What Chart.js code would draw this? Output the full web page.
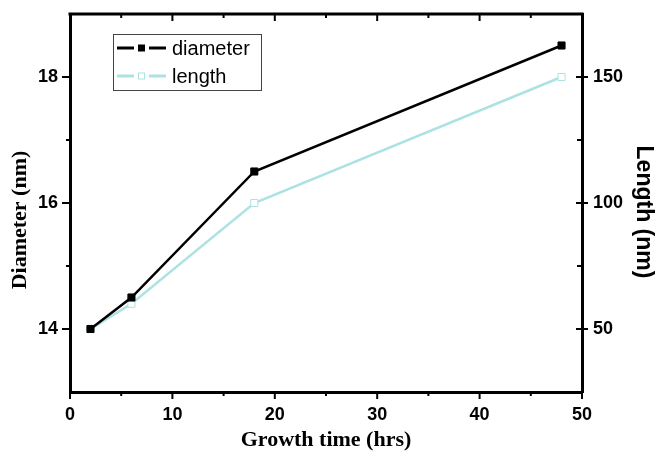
<!DOCTYPE html>
<html>
<head>
<meta charset="utf-8">
<script src="https://cdn.jsdelivr.net/npm/chart.js@4/dist/chart.umd.min.js"></script>
<style>
  body { margin: 0; background: #fff; }
</style>
</head>
<body>
<canvas id="myChart" width="658" height="458"></canvas>
<script>
//Data
const growthTime = [2, 6, 18, 48];
const diameter = [14, 14.5, 16.5, 18.5];
const lengthNm = [50, 60, 100, 150];

//Tick labels (major) and minor tick positions
const xTicks = [0, 10, 20, 30, 40, 50];
const xMinor = [5, 15, 25, 35, 45];
const diamTicks = [14, 16, 18];
const diamMinor = [15, 17];
const lengthTicks = [50, 100, 150];
const lengthMinor = [75, 125];

const cyan = '#ade2e2';

//Draws the frame ticks, the legend and the axis titles on top of the chart
const extras = {
    id: 'extras',
    afterDraw(chart) {
        const ctx = chart.ctx;
        const area = chart.chartArea;
        const x = chart.scales.x;
        const y = chart.scales.y;
        const y2 = chart.scales.y2;

        ctx.save();
        ctx.strokeStyle = '#000';

        //top frame line
        ctx.lineWidth = 3;
        ctx.beginPath();
        ctx.moveTo(area.left - 1.5, area.top);
        ctx.lineTo(area.right + 1.5, area.top);
        ctx.stroke();

        ctx.lineWidth = 2;
        ctx.beginPath();
        //bottom and top ticks
        xTicks.concat(xMinor).forEach(function(v) {
            const px = x.getPixelForValue(v);
            const len = xTicks.includes(v) ? 7 : 4;
            ctx.moveTo(px, area.bottom);
            ctx.lineTo(px, area.bottom + len);
            ctx.moveTo(px, area.top);
            ctx.lineTo(px, area.top + len);
        });
        //left ticks
        diamTicks.concat(diamMinor).forEach(function(v) {
            const py = y.getPixelForValue(v);
            const len = diamTicks.includes(v) ? 8 : 4;
            ctx.moveTo(area.left, py);
            ctx.lineTo(area.left - len, py);
        });
        //right ticks
        lengthTicks.forEach(function(v) {
            const py = y2.getPixelForValue(v);
            ctx.moveTo(area.right - 6, py);
            ctx.lineTo(area.right + 6, py);
        });
        lengthMinor.forEach(function(v) {
            const py = y2.getPixelForValue(v);
            ctx.moveTo(area.right - 5, py);
            ctx.lineTo(area.right, py);
        });
        ctx.stroke();

        //legend
        const lx = area.left + 43;
        const ly = area.top + 20;
        ctx.lineWidth = 1;
        ctx.strokeStyle = '#444';
        ctx.strokeRect(lx + 0.5, ly + 0.5, 148, 56);

        const rows = [
            { label: 'diameter', color: '#000', filled: true, yy: ly + 14 },
            { label: 'length', color: cyan, filled: false, yy: ly + 42 }
        ];
        rows.forEach(function(r) {
            ctx.lineWidth = 3;
            ctx.strokeStyle = r.color;
            ctx.beginPath();
            ctx.moveTo(lx + 4, r.yy);
            ctx.lineTo(lx + 21, r.yy);
            ctx.moveTo(lx + 36, r.yy);
            ctx.lineTo(lx + 53, r.yy);
            ctx.stroke();
            if (r.filled) {
                ctx.fillStyle = r.color;
                ctx.fillRect(lx + 25, r.yy - 3.5, 7, 7);
            } else {
                ctx.lineWidth = 1;
                ctx.fillStyle = '#fff';
                ctx.fillRect(lx + 25, r.yy - 3.5, 7, 7);
                ctx.strokeRect(lx + 25.5, r.yy - 3, 6, 6);
            }
            ctx.fillStyle = '#000';
            ctx.font = '20px "Liberation Sans"';
            ctx.textAlign = 'left';
            ctx.textBaseline = 'middle';
            ctx.fillText(r.label, lx + 59, r.yy + 1);
        });

        //axis titles
        ctx.fillStyle = '#000';
        ctx.textAlign = 'center';
        ctx.textBaseline = 'middle';
        ctx.font = 'bold 22px "Liberation Serif"';
        ctx.fillText('Growth time (hrs)', (area.left + area.right) / 2, 440);

        ctx.save();
        ctx.translate(20, 220);
        ctx.rotate(-Math.PI / 2);
        ctx.fillText('Diameter (nm)', 0, 0);
        ctx.restore();

        ctx.save();
        ctx.translate(643, 212);
        ctx.rotate(Math.PI / 2);
        ctx.font = 'bold 23px "Liberation Sans"';
        ctx.fillText('Length (nm)', 0, 0);
        ctx.restore();

        ctx.restore();
    }
};

const tickFont = { family: 'Liberation Sans', size: 18, weight: 'bold' };

//Keeps the scale boxes at fixed sizes so the plot area lands where it is in the picture
function fixVertical(w) {
    return function(scale) {
        scale.width = w;
        scale.paddingTop = 0;
        scale.paddingBottom = 0;
    };
}

const ctx = document.getElementById('myChart').getContext('2d');
const myChart = new Chart(ctx, {
    type: 'line',
    data: {
        datasets: [{
            label: 'diameter',
            data: growthTime.map(function(t, i) { return { x: t, y: diameter[i] }; }),
            yAxisID: 'y',
            borderColor: '#000',
            backgroundColor: '#000',
            borderWidth: 2.5,
            pointStyle: 'rect',
            pointRadius: 5,
            pointBorderWidth: 1,
            tension: 0
        }, {
            label: 'length',
            data: growthTime.map(function(t, i) { return { x: t, y: lengthNm[i] }; }),
            yAxisID: 'y2',
            borderColor: cyan,
            backgroundColor: '#fff',
            borderWidth: 2.5,
            pointStyle: 'rect',
            pointRadius: 5,
            pointBorderWidth: 1,
            tension: 0
        }]
    },
    options: {
        responsive: false,
        devicePixelRatio: 1,
        animation: false,
        layout: { padding: { top: 14 } },
        plugins: {
            legend: { display: false },
            tooltip: { enabled: false }
        },
        scales: {
            x: {
                type: 'linear',
                position: 'bottom',
                min: 0,
                max: 50,
                afterBuildTicks: function(scale) { scale.ticks = xTicks.map(function(v) { return { value: v }; }); },
                afterFit: function(scale) {
                    scale.height = 66;
                    scale.paddingLeft = 0;
                    scale.paddingRight = 0;
                },
                grid: { display: false, drawTicks: false },
                border: { display: true, color: '#000', width: 3 },
                ticks: { color: '#000', font: tickFont, padding: 12, maxRotation: 0 }
            },
            y: {
                type: 'linear',
                position: 'left',
                min: 13,
                max: 19,
                afterBuildTicks: function(scale) { scale.ticks = diamTicks.map(function(v) { return { value: v }; }); },
                afterFit: fixVertical(70),
                grid: { display: false, drawTicks: false },
                border: { display: true, color: '#000', width: 3 },
                ticks: { color: '#000', font: tickFont, padding: 12 }
            },
            y2: {
                type: 'linear',
                position: 'right',
                min: 25,
                max: 175,
                afterBuildTicks: function(scale) { scale.ticks = lengthTicks.map(function(v) { return { value: v }; }); },
                afterFit: fixVertical(76),
                grid: { display: false, drawTicks: false },
                border: { display: true, color: '#000', width: 3 },
                ticks: { color: '#000', font: tickFont, padding: 11 }
            }
        }
    },
    plugins: [extras]
});
</script>
</body>
</html>
